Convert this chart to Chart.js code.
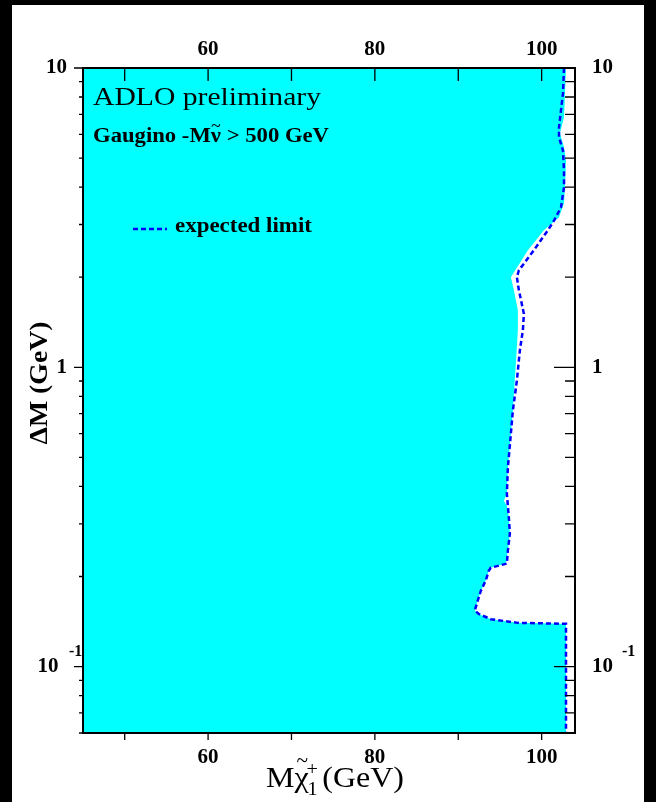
<!DOCTYPE html>
<html>
<head>
<meta charset="utf-8">
<script src="https://cdn.jsdelivr.net/npm/chart.js@4.4.0/dist/chart.umd.min.js"></script>
<style>
html,body{margin:0;padding:0;background:#000;width:656px;height:802px;overflow:hidden}
#c{position:absolute;left:0;top:0}
</style>
</head>
<body>
<canvas id="c" width="656" height="802"></canvas>
<script>
// ---------------- data ----------------
const massRange = [45, 104];
const deltaMRange = [0.06, 10];
const massTicks = [50, 60, 70, 80, 90, 100];
const massTickLabels = ['', '60', '', '80', '', '100'];
const deltaMTicks = [0.06,0.07,0.08,0.09,0.1,0.2,0.3,0.4,0.5,0.6,0.7,0.8,0.9,1,2,3,4,5,6,7,8,9,10];
const deltaMLabelValues = [0.1, 1, 10];
const deltaMLabels = ['10', '1', '10'];
const deltaMExponents = ['-1', '', ''];

// observed excluded region boundary (cyan), top to bottom
const observedMass = [102.92,102.80,102.68,102.20,102.68,102.92,102.80,102.68,102.08,100.27,98.35,96.31,96.67,97.15,97.15,96.91,96.55,96.31,95.95,95.83,95.47,95.83,96.07,96.19,95.95,95.71,93.90,93.66,93.30,92.70,91.98,92.46,93.90,97.15,102.92,102.92];
const observedDeltaM = [10,8.23,6.84,6.05,5.43,4.91,3.99,3.53,3.17,2.87,2.46,2.00,1.81,1.55,1.33,1.03,0.717,0.600,0.462,0.378,0.358,0.345,0.314,0.278,0.244,0.221,0.214,0.209,0.194,0.179,0.154,0.150,0.144,0.140,0.139,0.06];

// expected limit (dashed), top to bottom
const expectedMass = [102.68,102.56,102.08,102.08,102.56,102.68,102.68,102.32,101.48,100.75,100.15,99.07,97.27,97.03,97.27,97.87,97.75,97.39,97.03,96.55,96.31,95.95,95.83,96.07,96.19,95.95,95.83,93.90,93.66,93.30,92.70,91.98,92.46,93.90,97.15,102.92,102.92];
const expectedDeltaM = [10,8.23,6.33,5.87,5.30,4.55,3.99,3.42,3.09,2.87,2.72,2.46,2.11,2.00,1.81,1.51,1.33,1.14,0.903,0.717,0.600,0.462,0.378,0.314,0.278,0.244,0.221,0.214,0.209,0.194,0.179,0.154,0.150,0.144,0.140,0.139,0.06];

const legendLabel = 'expected limit';
const headerText = 'ADLO preliminary';
const subHeaderText = ['Gaugino -M', 'ν', ' > 500 GeV'];
const yTitle = 'ΔM (GeV)';

// ---------------- build ----------------
const SERIF = '"Liberation Serif","Times New Roman",serif';
const CYAN = '#00ffff';
const BLUE = '#0000ff';

const excludedPolygon = [{x: massRange[0], y: deltaMRange[1]}]
  .concat(observedMass.map((m, i) => ({x: m, y: observedDeltaM[i]})))
  .concat([{x: massRange[0], y: deltaMRange[0]}]);
const expectedLine = expectedMass.map((m, i) => ({x: m, y: expectedDeltaM[i]}));

function massLabel(v) {
  const i = massTicks.indexOf(v);
  return i >= 0 ? massTickLabels[i] : '';
}
function deltaLabel(v, side) {
  const i = deltaMLabelValues.findIndex(t => Math.abs(t - v) / t < 1e-6);
  if (i < 0) return '';
  if (deltaMExponents[i] && side === 'left') return deltaMLabels[i] + '\u2009\u2009';
  return deltaMLabels[i];
}

const tickFont = {family: SERIF, weight: 'bold', size: 21};

function xScale(pos, h, pad) {
  return {
    type: 'linear', position: pos, min: massRange[0], max: massRange[1],
    afterBuildTicks: s => { s.ticks = massTicks.map(v => ({value: v})); },
    afterFit: s => { s.height = h; },
    ticks: {autoSkip: false, maxRotation: 0, minRotation: 0, padding: pad, color: '#000', font: tickFont,
            callback: v => massLabel(v)},
    grid: {display: false, drawTicks: false},
    border: {display: false}
  };
}
function yScale(pos, w, pad) {
  return {
    type: 'logarithmic', position: pos, min: deltaMRange[0], max: deltaMRange[1],
    afterBuildTicks: s => { s.ticks = deltaMTicks.map(v => ({value: v})); },
    afterFit: s => { s.width = w; },
    ticks: {autoSkip: false, padding: pad, color: '#000', font: tickFont,
            callback: v => deltaLabel(v, pos)},
    grid: {display: false, drawTicks: false},
    border: {display: false}
  };
}

function fitText(ctx, text, x, y, font, targetW) {
  ctx.font = font;
  const w = ctx.measureText(text).width;
  ctx.save();
  ctx.translate(x, y);
  ctx.scale(targetW / w, 1);
  ctx.fillText(text, 0, 0);
  ctx.restore();
}

const pageBackground = {
  id: 'pageBackground',
  beforeDraw(chart) {
    const c = chart.ctx;
    c.save();
    c.fillStyle = '#000'; c.fillRect(0, 0, chart.width, chart.height);
    c.fillStyle = '#fff'; c.fillRect(12, 5, 632, 797);
    c.restore();
  }
};

const frameAndTicks = {
  id: 'frameAndTicks',
  afterDatasetsDraw(chart) {
    const {ctx, chartArea: a, scales} = chart;
    ctx.save();
    ctx.strokeStyle = '#000';
    ctx.lineWidth = 1.3;
    ctx.beginPath();
    for (const v of massTicks) {
      const pb = scales.x.getPixelForValue(v);
      ctx.moveTo(pb, a.bottom); ctx.lineTo(pb, a.bottom + 7);
      const pt = scales.x2.getPixelForValue(v);
      ctx.moveTo(pt, a.top); ctx.lineTo(pt, a.top + 13);
    }
    for (const v of deltaMTicks) {
      const major = deltaMLabelValues.some(t => Math.abs(t - v) / t < 1e-6);
      const py = scales.y.getPixelForValue(v);
      ctx.moveTo(a.left, py); ctx.lineTo(a.left - (major ? 9 : 4), py);
      const pr = scales.y2.getPixelForValue(v);
      ctx.moveTo(a.right, pr); ctx.lineTo(a.right - (major ? 21 : 10), pr);
    }
    ctx.stroke();
    ctx.lineWidth = 2;
    ctx.strokeRect(a.left, a.top, a.right - a.left, a.bottom - a.top);
    ctx.restore();
  }
};

const annotations = {
  id: 'annotations',
  afterDraw(chart) {
    const {ctx, scales} = chart;
    ctx.save();
    ctx.fillStyle = '#000';
    ctx.textAlign = 'left';
    ctx.textBaseline = 'alphabetic';

    // header
    fitText(ctx, headerText, 93, 105, '26px ' + SERIF, 228);

    // sub header with tilde over nu
    const subFont = 'bold 20px ' + SERIF;
    ctx.font = subFont;
    const full = subHeaderText.join('');
    const wFull = ctx.measureText(full).width;
    const sx = 236 / wFull;
    const wPre = ctx.measureText(subHeaderText[0]).width;
    const wNu = ctx.measureText(subHeaderText[1]).width;
    fitText(ctx, full, 93, 142, subFont, 236);
    ctx.font = '18px ' + SERIF;
    ctx.textAlign = 'center';
    ctx.fillText('~', 93 + (wPre + wNu / 2) * sx, 132);
    ctx.textAlign = 'left';

    // legend
    const ds = chart.data.datasets[0];
    ctx.save();
    ctx.strokeStyle = ds.borderColor;
    ctx.lineWidth = ds.borderWidth;
    ctx.setLineDash(ds.borderDash);
    ctx.beginPath(); ctx.moveTo(133, 229); ctx.lineTo(167, 229); ctx.stroke();
    ctx.restore();
    fitText(ctx, legendLabel, 175, 232, 'bold 21px ' + SERIF, 137);

    // exponents on 10^-1 labels
    deltaMLabelValues.forEach((v, i) => {
      if (!deltaMExponents[i]) return;
      const py = scales.y.getPixelForValue(v);
      ctx.font = 'bold 16px ' + SERIF;
      ctx.textBaseline = 'middle';
      ctx.fillText(deltaMExponents[i], 69, py - 15);
      ctx.fillText(deltaMExponents[i], 622, py - 15);
      ctx.textBaseline = 'alphabetic';
    });

    // y title (rotated)
    ctx.save();
    ctx.translate(47, 383);
    ctx.rotate(-Math.PI / 2);
    ctx.font = 'bold 26px ' + SERIF;
    const wy = ctx.measureText(yTitle).width;
    ctx.scale(123 / wy, 1);
    ctx.textAlign = 'center';
    ctx.fillText(yTitle, 0, 0);
    ctx.restore();

    // x title: M chi~ ^+ _1 (GeV)
    const big = '30px ' + SERIF, small = '19px ' + SERIF;
    ctx.font = big;
    const wM = ctx.measureText('M').width;
    const wChi = ctx.measureText('χ').width;
    const wG = ctx.measureText('(GeV)').width;
    ctx.font = small;
    const wS = Math.max(ctx.measureText('+').width, ctx.measureText('1').width);
    const natural = wM + wChi + wS + 2 + wG;
    const k = 138 / natural;
    ctx.save();
    ctx.translate(266, 787);
    ctx.scale(k, 1);
    ctx.font = big;
    ctx.fillText('M', 0, 0);
    ctx.fillText('χ', wM, 0);
    ctx.font = '20px ' + SERIF;
    ctx.textAlign = 'center';
    ctx.fillText('~', wM + wChi * 0.55, -20);
    ctx.textAlign = 'left';
    ctx.font = small;
    ctx.fillText('+', wM + wChi - 2, -12);
    ctx.fillText('1', wM + wChi - 1, 8);
    ctx.font = big;
    ctx.fillText('(GeV)', wM + wChi + wS + 2, 0);
    ctx.restore();

    ctx.restore();
  }
};

new Chart(document.getElementById('c'), {
  type: 'scatter',
  data: {
    datasets: [
      {
        label: legendLabel,
        data: expectedLine,
        showLine: true,
        borderColor: BLUE,
        borderWidth: 2.5,
        borderDash: [5, 3],
        pointRadius: 0,
        fill: false,
        tension: 0,
        order: 0,
        xAxisID: 'x', yAxisID: 'y'
      },
      {
        label: 'excluded',
        data: excludedPolygon,
        showLine: true,
        borderWidth: 0,
        borderColor: CYAN,
        backgroundColor: CYAN,
        pointRadius: 0,
        fill: 'shape',
        tension: 0,
        order: 1,
        xAxisID: 'x', yAxisID: 'y'
      }
    ]
  },
  options: {
    responsive: false,
    devicePixelRatio: 1,
    animation: false,
    events: [],
    layout: {padding: 0},
    plugins: {legend: {display: false}, tooltip: {enabled: false}, title: {display: false}},
    scales: {
      x: xScale('bottom', 69, 12),
      x2: xScale('top', 68, 6),
      y: yScale('left', 83, 16),
      y2: yScale('right', 81, 17)
    }
  },
  plugins: [pageBackground, frameAndTicks, annotations]
});
</script>
</body>
</html>
